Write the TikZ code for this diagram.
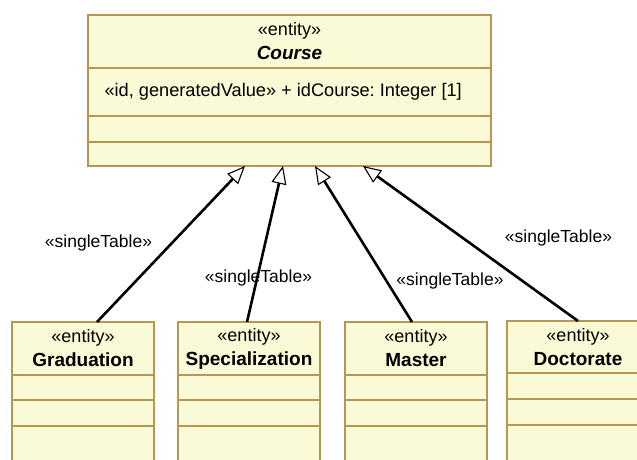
\documentclass[tikz,border=0pt]{standalone}
\usepackage{fontspec}
\setmainfont{Liberation Sans}
\usetikzlibrary{arrows.meta}
\frenchspacing
\definecolor{umlfill}{RGB}{250,250,214}
\definecolor{umlline}{RGB}{182,150,82}
\newcommand{\clsname}[1]{\fontsize{19}{24}\selectfont\textbf{#1}}
\tikzset{
  entity/.style={draw=umlline, fill=umlfill, line width=1.3pt, inner sep=0pt, outer sep=0pt,
    minimum width=142pt, font=\fontsize{18}{24}\selectfont},
  part/.style={entity, anchor=north},
  inherit/.style={line width=2.6pt, -{Triangle[open, length=18pt, width=15pt, line width=1.1pt]}},
  stereo/.style={font=\fontsize{17.5}{20}\selectfont}
}
\begin{document}
\begin{tikzpicture}[x=1pt, y=-1pt]
\useasboundingbox (0,0) rectangle (637,459);
\clip (0,0) rectangle (637,459);
    \node (c) at (289.5,41.5) [entity, minimum width=403pt, minimum height=53pt, align=center] {«entity»\\\clsname{\textit{Course}}};
    \node (c1) at (c.south) [part, minimum width=403pt, minimum height=48pt] {};
    \node at (c1.west) [anchor=west, xshift=13pt, font=\fontsize{18.2}{23}\selectfont] {«id, generatedValue» + idCourse: Integer [1]};
    \node (c2) at (c1.south) [part, minimum width=403pt, minimum height=26pt] {};
    \node (c3) at (c2.south) [part, minimum width=403pt, minimum height=24pt] {};

    \node (g) at (83,348.5) [entity, minimum height=53pt, align=center] {«entity»\\\clsname{Graduation}};
    \node (g1) at (g.south) [part, minimum height=25pt] {};
    \node (g2) at (g1.south) [part, minimum height=26pt] {};
    \node (g3) at (g2.south) [part, minimum height=45pt] {};

    \node (s) at (249,348.5) [entity, minimum height=53pt, align=center] {«entity»\\\clsname{Specialization}};
    \node (s1) at (s.south) [part, minimum height=25pt] {};
    \node (s2) at (s1.south) [part, minimum height=26pt] {};
    \node (s3) at (s2.south) [part, minimum height=45pt] {};

    \node (m) at (416,348.5) [entity, minimum height=53pt, align=center] {«entity»\\\clsname{Master}};
    \node (m1) at (m.south) [part, minimum height=25pt] {};
    \node (m2) at (m1.south) [part, minimum height=26pt] {};
    \node (m3) at (m2.south) [part, minimum height=45pt] {};

    \node (d) at (578,347) [entity, minimum height=52pt, align=center] {«entity»\\\clsname{Doctorate}};
    \node (d1) at (d.south) [part, minimum height=26pt] {};
    \node (d2) at (d1.south) [part, minimum height=26pt] {};
    \node (d3) at (d2.south) [part, minimum height=45pt] {};

    \node (l1) at (98.5,243) [stereo] {«singleTable»};
    \node (l2) at (258.5,278) [stereo] {«singleTable»};
    \node (l3) at (450,281) [stereo] {«singleTable»};
    \node (l4) at (558.5,238) [stereo] {«singleTable»};

\draw[inherit] ([xshift=14pt]g.north) -- ([xshift=-44.5pt]c3.south);
\draw[inherit] ([xshift=-2pt]s.north) -- ([xshift=-6.5pt]c3.south);
\draw[inherit] ([xshift=-4pt]m.north) -- ([xshift=25.5pt]c3.south);
\draw[inherit] (d.north) -- ([xshift=73.5pt]c3.south);
\end{tikzpicture}
\end{document}
